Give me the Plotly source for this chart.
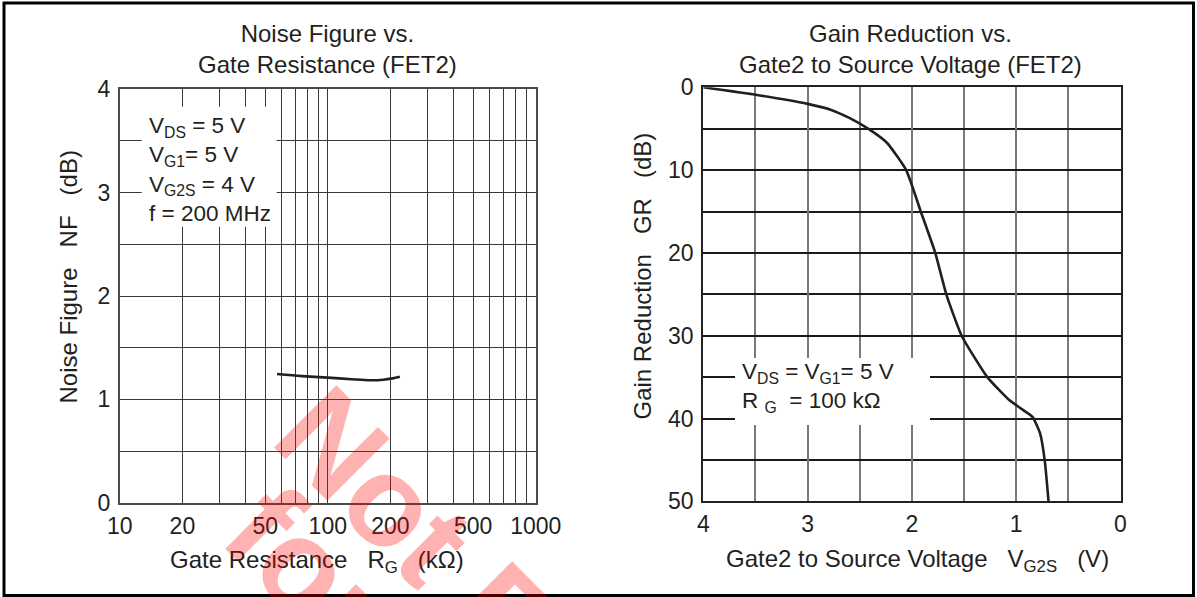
import plotly.graph_objects as go

# ---------------- data ----------------
rg_kohm = [57, 75, 100, 130, 160, 185, 205, 222]
nf_db = [1.245, 1.225, 1.21, 1.195, 1.185, 1.19, 1.203, 1.218]

vg2s_v = [4.0, 3.5, 3.0, 2.78, 2.6, 2.42, 2.24, 2.055, 1.915, 1.776, 1.67,
          1.523, 1.277, 1.064, 0.954, 0.844, 0.771, 0.727, 0.69]
gr_db = [0, 0.9, 2.0, 2.7, 3.7, 5.0, 6.7, 10.0, 15.0, 20.0, 25.0,
         30.0, 35.0, 37.8, 38.8, 39.8, 41.8, 45.0, 50.0]

rg_ticks = [10, 20, 50, 100, 200, 500, 1000]
rg_minor = [30, 40, 60, 70, 80, 90, 300, 400, 600, 700, 800, 900]
nf_ticks = [0, 1, 2, 3, 4]
v_ticks = [4, 3, 2, 1, 0]
gr_ticks = [0, 10, 20, 30, 40, 50]

# ---------------- helpers ----------------
W, H = 1197, 597
def px(x):
    return x / W
def py(y):
    return 1 - y / H

FONT = "Liberation Sans, Arial, Helvetica, sans-serif"
INK = "#231f20"
NB = "\u00a0"

fig = go.Figure()
fig.add_trace(go.Scatter(x=rg_kohm, y=nf_db, xaxis="x", yaxis="y", mode="lines",
                         line=dict(color=INK, width=2.6, shape="spline", smoothing=0.8),
                         showlegend=False, hoverinfo="skip"))
fig.add_trace(go.Scatter(x=vg2s_v, y=gr_db, xaxis="x2", yaxis="y2", mode="lines",
                         line=dict(color=INK, width=2.6, shape="spline", smoothing=0.5),
                         showlegend=False, hoverinfo="skip"))

tickfont = dict(family=FONT, size=23, color=INK)
grid_dark = "#3a3a3a"

fig.update_layout(
    width=W, height=H,
    margin=dict(l=0, r=0, t=0, b=0, pad=0),
    paper_bgcolor="white", plot_bgcolor="white",
    showlegend=False,
    xaxis=dict(domain=[px(119.8), px(535.8)], anchor="y", type="log", range=[1, 3],
               tickmode="array", tickvals=rg_ticks, ticktext=[str(t) for t in rg_ticks],
               tickfont=tickfont, ticks="", showgrid=True, gridcolor=grid_dark, gridwidth=1.3,
               minor=dict(tickmode="array", tickvals=rg_minor, showgrid=True,
                          gridcolor=grid_dark, gridwidth=1.3, ticks=""),
               showline=True, linecolor="#4a4a4a", linewidth=2, mirror=True,
               zeroline=False, fixedrange=True, ticklabelstandoff=2, automargin=False),
    yaxis=dict(domain=[py(502.7), py(89.3)], anchor="x", range=[0, 4],
               tickmode="array", tickvals=nf_ticks, tickfont=tickfont, ticks="",
               showgrid=True, gridcolor=grid_dark, gridwidth=1.3,
               minor=dict(dtick=0.5, showgrid=True, gridcolor=grid_dark, gridwidth=1.3, ticks=""),
               showline=True, linecolor="#4a4a4a", linewidth=2, mirror=True,
               zeroline=False, fixedrange=True, ticklabelstandoff=3, automargin=False),
    xaxis2=dict(domain=[px(703.3), px(1120.5)], anchor="y2", range=[4, 0],
                tickmode="array", tickvals=v_ticks, tickfont=tickfont, ticks="",
                showgrid=True, gridcolor="#7a7a7a", gridwidth=1.6,
                minor=dict(dtick=0.5, showgrid=True, gridcolor="#7a7a7a", gridwidth=1.6, ticks=""),
                showline=True, linecolor="#222222", linewidth=2.2, mirror=True,
                zeroline=False, fixedrange=True, ticklabelstandoff=1, automargin=False),
    yaxis2=dict(domain=[py(501.3), py(87.3)], anchor="x2", range=[50, 0],
                tickmode="array", tickvals=gr_ticks, tickfont=tickfont, ticks="",
                showgrid=True, gridcolor="#1a1a1a", gridwidth=2,
                minor=dict(dtick=5, showgrid=True, gridcolor="#1a1a1a", gridwidth=2, ticks=""),
                showline=True, linecolor="#222222", linewidth=2.2, mirror=True,
                zeroline=False, fixedrange=True, ticklabelstandoff=3, automargin=False),
)

# white label boxes that interrupt the grid
fig.add_shape(type="rect", xref="paper", yref="paper", layer="above",
              x0=px(141.7), x1=px(276.7), y0=py(226.7), y1=py(106.7),
              fillcolor="white", line=dict(width=0))
fig.add_shape(type="rect", xref="paper", yref="paper", layer="above",
              x0=px(735), x1=px(930), y0=py(425), y1=py(358),
              fillcolor="white", line=dict(width=0))
# outer frame
fig.add_shape(type="rect", xref="paper", yref="paper", layer="above",
              x0=px(4), x1=px(1193.5), y0=py(595.5), y1=py(3),
              fillcolor="rgba(0,0,0,0)", line=dict(color="black", width=3))

def ann(text, x, y, size=24, angle=0, xanchor="center", yanchor="middle", align="center", color=INK):
    fig.add_annotation(text=text, x=px(x), y=py(y), xref="paper", yref="paper",
                       showarrow=False, textangle=angle, xanchor=xanchor, yanchor=yanchor,
                       align=align, font=dict(family=FONT, size=size, color=color))

# titles
ann("Noise Figure vs.<br>Gate Resistance (FET2)", 327, 49.5)
ann("Gain Reduction vs.<br>Gate2 to Source Voltage (FET2)", 910, 49.5)

# axis titles
sp3 = NB * 3
ann(f"Noise Figure{sp3}NF{sp3}(dB)", 68, 277.5, angle=-90)
ann(f"Gain Reduction{sp3}GR{sp3}(dB)", 642, 276.5, angle=-90)
ann(f"Gate Resistance{sp3}R<sub>G</sub>{sp3}(k\u03a9)", 316.7, 561.7)
ann(f"Gate2 to Source Voltage{sp3}V<sub>G2S</sub>{sp3}(V)", 917.8, 560)

# condition labels
ann("V<sub>DS</sub> = 5 V<br>V<sub>G1</sub>= 5 V<br>V<sub>G2S</sub> = 4 V<br>f = 200 MHz",
    146.7, 170, size=22.5, xanchor="left", align="left")
ann(f"V<sub>DS</sub> = V<sub>G1</sub>= 5 V<br>R{NB}<sub>G</sub>{NB}{NB}= 100 k\u03a9",
    740, 387.5, size=22.5, xanchor="left", align="left")

# watermark
wm = "rgba(255,0,0,0.3)"
fig.add_annotation(text="<b>Not Recommended</b>", x=px(712), y=py(822), xref="paper", yref="paper",
                   showarrow=False, textangle=45, xanchor="center", yanchor="middle",
                   font=dict(family=FONT, size=128, color=wm))
fig.add_annotation(text="<b>for New Design</b>", x=px(578), y=py(838), xref="paper", yref="paper",
                   showarrow=False, textangle=45, xanchor="center", yanchor="middle",
                   font=dict(family=FONT, size=128, color=wm))

fig.write_html(
    "out.html",
    config={"displayModeBar": False},
    post_script=(
        "document.documentElement.style.margin='0';"
        "document.body.style.margin='0';"
        "document.documentElement.style.overflow='hidden';"
        "document.body.style.overflow='hidden';"
    ),
)
